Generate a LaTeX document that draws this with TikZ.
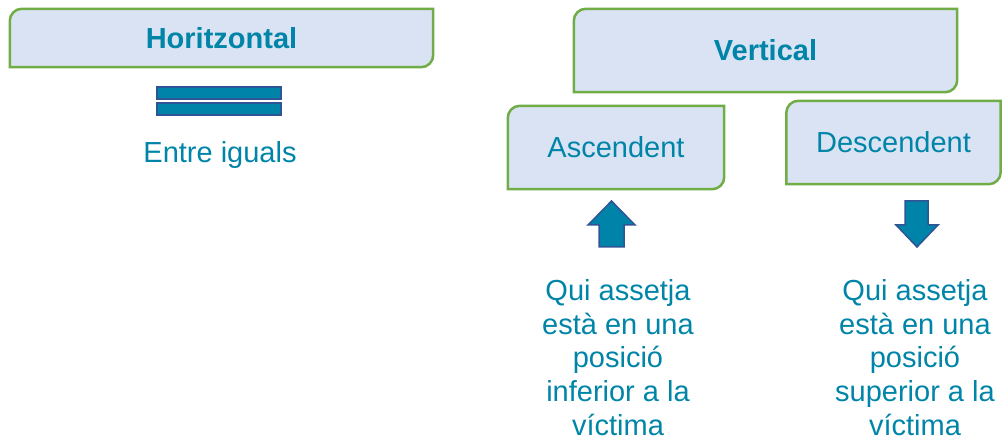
\documentclass[tikz,border=0pt]{standalone}
\usepackage{fontspec}
\setmainfont{Liberation Sans}
\usepackage{tikz}
\usetikzlibrary{backgrounds,calc,positioning}
\definecolor{txtblue}{RGB}{0,133,168}
\definecolor{boxfill}{RGB}{218,227,243}
\definecolor{boxgreen}{RGB}{112,173,71}
\definecolor{arrfill}{RGB}{0,131,168}
\definecolor{arrline}{RGB}{47,85,151}
\tikzset{%
	level/.style  = {rectangle, inner sep=0pt, text=txtblue, font=\fontsize{29}{34}\selectfont}, % box text
	frame/.style  = {draw=boxgreen, fill=boxfill, line width=2.5pt}, % box outline
	label/.style  = {text=txtblue, align=center, inner sep=0pt, font=\fontsize{29}{33.7}\selectfont},
	symbol/.style = {fill=arrfill, draw=arrline, line width=1.5pt, line join=miter},
}
\newcommand{\boxrad}{12}
\begin{document}
\begin{tikzpicture}[x=1pt,y=1pt]
	\useasboundingbox (0,0) rectangle (1002,436);
	% boxes
	\node [level, minimum width=423pt, minimum height=58pt, font=\fontsize{29}{34}\selectfont\bfseries] (hor) at (221.5,398) {Horitzontal};
	\node [level, minimum width=383pt, minimum height=83pt, font=\fontsize{29}{34}\selectfont\bfseries] (ver) at (765.5,385.5) {Vertical};
	\node [level, minimum width=216pt, minimum height=83pt] (asc) at (616,288.5) {Ascendent};
	\node [level, minimum width=214pt, minimum height=83pt] (desc) at (893.5,293.5) {Descendent};
	\begin{pgfonlayer}{background}
		\foreach \b in {hor,ver,asc,desc}
			\draw[frame] (\b.south west) -- ($(\b.north west)+(0,-\boxrad)$) arc (180:90:\boxrad)
				-- (\b.north east) -- ($(\b.south east)+(0,\boxrad)$) arc (0:-90:\boxrad) -- cycle;
	\end{pgfonlayer}
	% equal sign
	\draw[symbol] (157,337) rectangle (281,349);
	\draw[symbol] (157,321) rectangle (281,333);
	\node [label] (eq) at (220,281) {Entre iguals};
	% arrows
	\draw[symbol] (599,189) -- (599,211) -- (588,211) -- (611.5,235) -- (635,211) -- (624,211) -- (624,189) -- cycle;
	\draw[symbol] (905,235) -- (905,211) -- (896,211) -- (917,189) -- (938,211) -- (928,211) -- (928,235) -- cycle;
	% descriptions
	\node [label] (inf) at (618,78.5) {Qui assetja\\està en una\\posició\\inferior a la\\víctima};
	\node [label] (sup) at (915,78.5) {Qui assetja\\està en una\\posició\\superior a la\\víctima};
\end{tikzpicture}
\end{document}
